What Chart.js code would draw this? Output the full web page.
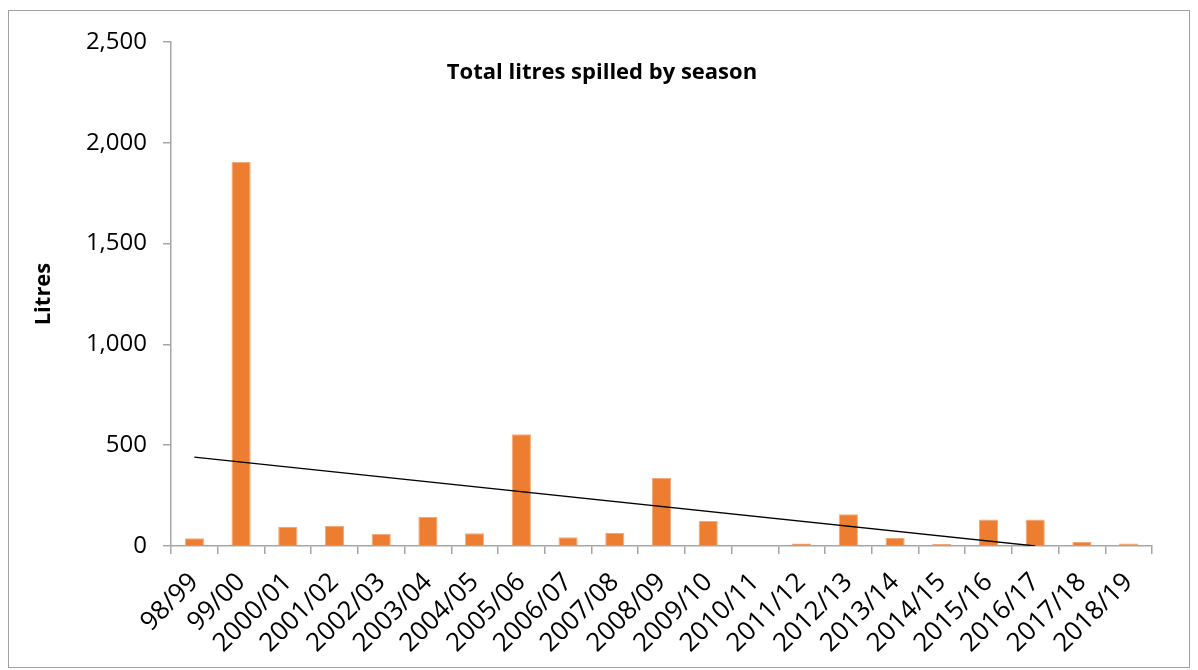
<!DOCTYPE html>
<html>
<head>
<meta charset="utf-8">
<script src="https://cdn.jsdelivr.net/npm/chart.js@4.4.1/dist/chart.umd.min.js"></script>
<style>
  html, body { margin: 0; padding: 0; background: #fff; }
  #frame { position: absolute; left: 8px; top: 10px; width: 1180px; height: 656px; border: 1px solid #a0a0a0; }
  #wrap { position: absolute; left: 0; top: 0; width: 1198px; height: 670px; }
</style>
</head>
<body>
<div id="frame"></div>
<div id="wrap"><canvas id="mainChart"></canvas></div>
<script>
// seasons on the x axis
const seasons = ['98/99','99/00','2000/01','2001/02','2002/03','2003/04','2004/05','2005/06','2006/07','2007/08',
  '2008/09','2009/10','2010/11','2011/12','2012/13','2013/14','2014/15','2015/16','2016/17','2017/18','2018/19'];
// litres spilled
const litres = [38, 1905, 94, 99, 60, 144, 63, 554, 43, 64, 337, 124, 5, 13, 157, 40, 10, 132, 132, 20, 12];
const trend = [441, null, null, null, null, null, null, null, null, null, null, null, null, null, null, null, null, null, 0, null, null];
const yTicks = [0, 500, 1000, 1500, 2000, 2500];

const axisGrey = '#a6a6a6';
const fontFam = "'Open Sans', 'DejaVu Sans', sans-serif";

const innerTitle = {
  id: 'innerTitle',
  afterDraw(chart) {
    const ctx = chart.ctx;
    ctx.save();
    ctx.font = "bold 22px " + fontFam;
    ctx.fillStyle = '#000';
    ctx.textAlign = 'center';
    ctx.textBaseline = 'middle';
    ctx.fillText('Total litres spilled by season', 602, 73);
    ctx.restore();
  }
};

function plotSpills(){
  const ctx = document.getElementById('mainChart').getContext('2d');
  window.myChart = new Chart(ctx, {
    data: {
      labels: seasons,
      datasets: [
        {
          type: 'line',
          label: 'Trend',
          data: trend,
          spanGaps: true,
          borderColor: '#000',
          borderWidth: 1.3,
          pointRadius: 0,
          order: 0
        },
        {
          type: 'bar',
          label: 'Litres',
          data: litres,
          backgroundColor: '#ED7D31',
          borderColor: '#F3A978',
          borderWidth: 1,
          barPercentage: 0.41,
          categoryPercentage: 1,
          order: 1
        }
      ]
    },
    options: {
      responsive: true,
      maintainAspectRatio: false,
      animation: false,
      layout: { padding: { left: 0, top: 42, right: 46, bottom: 0 } },
      plugins: { legend: { display: false }, tooltip: { enabled: false } },
      scales: {
        x: {
          offset: true,
          afterFit: s => { s.height = 124; },
          grid: { display: true, drawOnChartArea: false, drawTicks: true, tickLength: 8, offset: true, color: axisGrey, lineWidth: 1.5 },
          border: { color: axisGrey, width: 1.5 },
          ticks: { maxRotation: 45, minRotation: 45, autoSkip: false, padding: 13, color: '#000', font: { family: fontFam, size: 26 } }
        },
        y: {
          min: 0,
          max: 2500,
          afterFit: s => { s.width = 171; },
          afterBuildTicks: s => { s.ticks = yTicks.map(v => ({ value: v })); },
          grid: { display: true, drawOnChartArea: false, drawTicks: true, tickLength: 8, color: axisGrey, lineWidth: 1.5 },
          border: { color: axisGrey, width: 1.5 },
          ticks: {
            padding: 16,
            color: '#000',
            font: { family: fontFam, size: 24 },
            callback: v => v.toLocaleString('en-US')
          },
          title: { display: true, text: 'Litres', color: '#000', font: { family: fontFam, size: 22, weight: 'bold' }, padding: { top: 31 } }
        }
      }
    },
    plugins: [innerTitle]
  });
}
document.addEventListener("DOMContentLoaded", plotSpills);
</script>
</body>
</html>
